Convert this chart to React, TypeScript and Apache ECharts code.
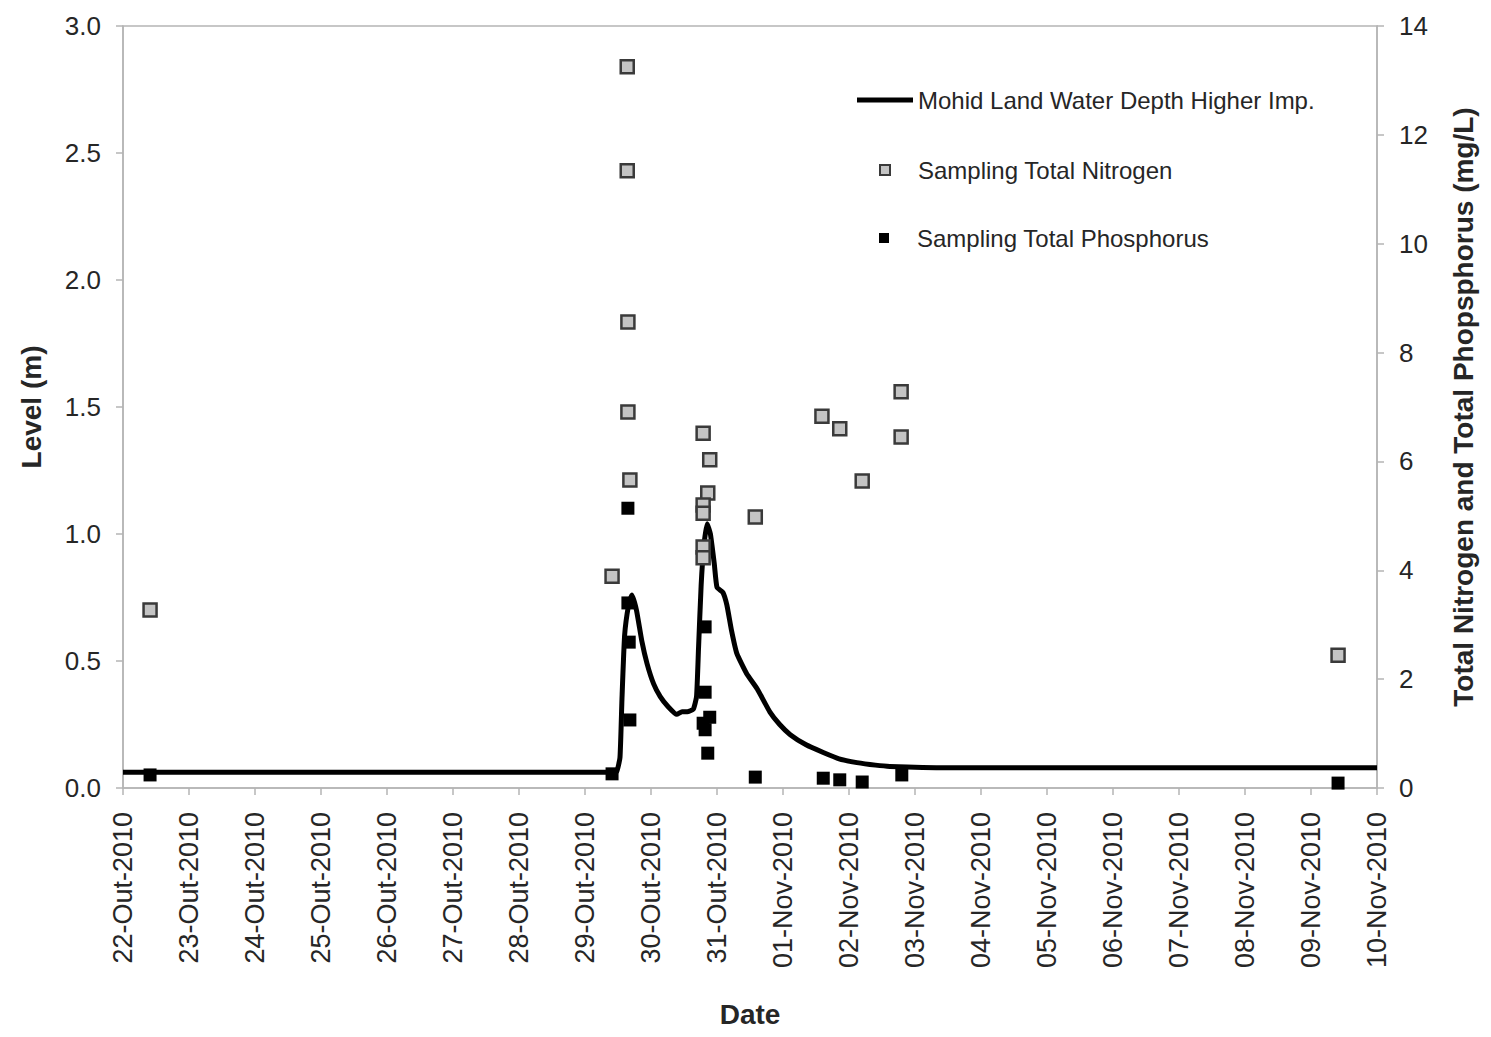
import React, { useEffect, useRef } from "react";
import * as echarts from "echarts";

const dateLabels = [
  "22-Out-2010", "23-Out-2010", "24-Out-2010", "25-Out-2010", "26-Out-2010",
  "27-Out-2010", "28-Out-2010", "29-Out-2010", "30-Out-2010", "31-Out-2010",
  "01-Nov-2010", "02-Nov-2010", "03-Nov-2010", "04-Nov-2010", "05-Nov-2010",
  "06-Nov-2010", "07-Nov-2010", "08-Nov-2010", "09-Nov-2010", "10-Nov-2010",
];

// days after 22-Out-2010 00:00
const lineDays = [
  0, 7.4, 7.48, 7.53, 7.56, 7.6, 7.66, 7.71, 7.78, 7.86, 7.94, 8.04, 8.14, 8.26,
  8.39, 8.47, 8.55, 8.64, 8.69, 8.72, 8.76, 8.8, 8.85, 8.9, 8.96, 9.0, 9.09,
  9.15, 9.22, 9.3, 9.45, 9.61, 9.8, 9.95, 10.11, 10.35, 10.61, 10.85, 11.12,
  11.4, 11.62, 12.5, 19,
];
const lineLevel = [
  0.062, 0.062, 0.065, 0.12, 0.35, 0.6, 0.72, 0.76, 0.7, 0.58, 0.49, 0.41, 0.36,
  0.32, 0.29, 0.3, 0.3, 0.31, 0.36, 0.55, 0.8, 0.95, 1.04, 1.0, 0.88, 0.79, 0.77,
  0.72, 0.62, 0.53, 0.45, 0.39, 0.3, 0.25, 0.21, 0.17, 0.14, 0.115, 0.1, 0.09,
  0.085, 0.08, 0.08,
];

const nitrogenDays = [
  0.41, 7.41, 7.64, 7.64, 7.65, 7.65, 7.68, 8.79, 8.89, 8.86, 8.79, 8.79, 8.79,
  8.79, 9.58, 10.59, 10.86, 11.2, 11.79, 11.79, 18.41,
];
const nitrogenValues = [
  3.27, 3.89, 13.25, 11.34, 8.56, 6.91, 5.66, 6.52, 6.03, 5.42, 5.2, 5.05, 4.43,
  4.23, 4.98, 6.83, 6.6, 5.64, 7.28, 6.45, 2.44,
];

const phosphorusDays = [
  0.41, 7.41, 7.65, 7.65, 7.67, 7.68, 8.82, 8.82, 8.89, 8.79, 8.82, 8.86, 9.58,
  10.61, 10.86, 11.2, 11.8, 18.41,
];
const phosphorusValues = [
  0.24, 0.26, 5.14, 3.4, 2.68, 1.25, 2.96, 1.76, 1.3, 1.19, 1.07, 0.64, 0.2,
  0.18, 0.15, 0.11, 0.24, 0.09,
];

const levelTicks = { min: 0, max: 3, interval: 0.5 };
const concTicks = { min: 0, max: 14, interval: 2 };

const seriesNames = [
  "Mohid Land Water Depth Higher Imp.",
  "Sampling Total Nitrogen",
  "Sampling Total Phosphorus",
];

const FONT = "'Liberation Sans', Arial, sans-serif";
const AXIS_GREY = "#b5b5b5";
const TEXT = "#262626";

export default function App() {
  const ref = useRef<HTMLDivElement>(null);

  useEffect(() => {
    document.body.style.margin = "0";
    if (!ref.current) return;
    const chart = echarts.init(ref.current, null, { renderer: "svg" });

    const zip = (a: number[], b: number[]) => a.map((v, i) => [v, b[i]]);

    const legendBase = {
      orient: "vertical" as const,
      padding: 0,
      textStyle: { fontFamily: FONT, fontSize: 24, color: TEXT },
    };

    chart.setOption({
      animation: false,
      backgroundColor: "#ffffff",
      textStyle: { fontFamily: FONT },
      grid: {
        left: 123,
        right: 114,
        top: 26,
        bottom: 249,
        show: true,
        borderColor: AXIS_GREY,
        borderWidth: 1.5,
        backgroundColor: "transparent",
      },
      legend: [
        {
          ...legendBase,
          left: 857,
          top: 88,
          itemWidth: 56,
          itemHeight: 5,
          data: [{ name: seriesNames[0], icon: "rect", itemStyle: { color: "#000000" } }],
        },
        {
          ...legendBase,
          left: 879,
          top: 158,
          itemWidth: 10,
          itemHeight: 10,
          textStyle: { ...legendBase.textStyle, padding: [0, 0, 0, 23] },
          data: [seriesNames[1]],
        },
        {
          ...legendBase,
          left: 879,
          top: 226,
          itemWidth: 10,
          itemHeight: 10,
          textStyle: { ...legendBase.textStyle, padding: [0, 0, 0, 23] },
          data: [seriesNames[2]],
        },
      ],
      xAxis: {
        type: "value",
        min: 0,
        max: dateLabels.length - 1,
        interval: 1,
        name: "Date",
        nameLocation: "middle",
        nameGap: 212,
        nameTextStyle: { fontFamily: FONT, fontSize: 28, fontWeight: "bold", color: TEXT },
        axisLine: { show: true, lineStyle: { color: AXIS_GREY, width: 1.5 } },
        axisTick: { show: true, length: 7, lineStyle: { color: AXIS_GREY, width: 1.5 } },
        splitLine: { show: false },
        axisLabel: {
          rotate: 90,
          margin: 24,
          fontFamily: FONT,
          fontSize: 27,
          color: TEXT,
          formatter: (v: number) => dateLabels[Math.round(v)] ?? "",
        },
      },
      yAxis: [
        {
          type: "value",
          position: "left",
          ...levelTicks,
          name: "Level (m)",
          nameLocation: "middle",
          nameRotate: 90,
          nameGap: 78,
          nameTextStyle: { fontFamily: FONT, fontSize: 28, fontWeight: "bold", color: TEXT },
          axisLine: { show: true, lineStyle: { color: AXIS_GREY, width: 1.5 } },
          axisTick: { show: true, length: 7, lineStyle: { color: AXIS_GREY, width: 1.5 } },
          splitLine: { show: false },
          axisLabel: {
            margin: 22,
            fontFamily: FONT,
            fontSize: 26,
            color: TEXT,
            formatter: (v: number) => v.toFixed(1),
          },
        },
        {
          type: "value",
          position: "right",
          ...concTicks,
          name: "Total Nitrogen and Total Phopsphorus (mg/L)",
          nameLocation: "middle",
          nameRotate: 90,
          nameGap: 72,
          nameTextStyle: { fontFamily: FONT, fontSize: 28, fontWeight: "bold", color: TEXT },
          axisLine: { show: true, lineStyle: { color: AXIS_GREY, width: 1.5 } },
          axisTick: { show: true, length: 7, lineStyle: { color: AXIS_GREY, width: 1.5 } },
          splitLine: { show: false },
          axisLabel: {
            margin: 22,
            fontFamily: FONT,
            fontSize: 26,
            color: TEXT,
          },
        },
      ],
      series: [
        {
          name: seriesNames[0],
          type: "line",
          yAxisIndex: 0,
          symbol: "none",
          smooth: 0.15,
          lineStyle: { color: "#000000", width: 5 },
          itemStyle: { color: "#000000" },
          data: zip(lineDays, lineLevel),
          z: 2,
        },
        {
          name: seriesNames[1],
          type: "scatter",
          yAxisIndex: 1,
          symbol: "rect",
          symbolSize: 13,
          itemStyle: { color: "#c4c4c4", borderColor: "#3a3a3a", borderWidth: 2.5, opacity: 1 },
          data: zip(nitrogenDays, nitrogenValues),
          z: 3,
        },
        {
          name: seriesNames[2],
          type: "scatter",
          yAxisIndex: 1,
          symbol: "rect",
          symbolSize: 13,
          itemStyle: { color: "#000000", opacity: 1 },
          data: zip(phosphorusDays, phosphorusValues),
          z: 4,
        },
      ],
    });

    return () => chart.dispose();
  }, []);

  return <div ref={ref} style={{ width: 1491, height: 1037 }} />;
}
